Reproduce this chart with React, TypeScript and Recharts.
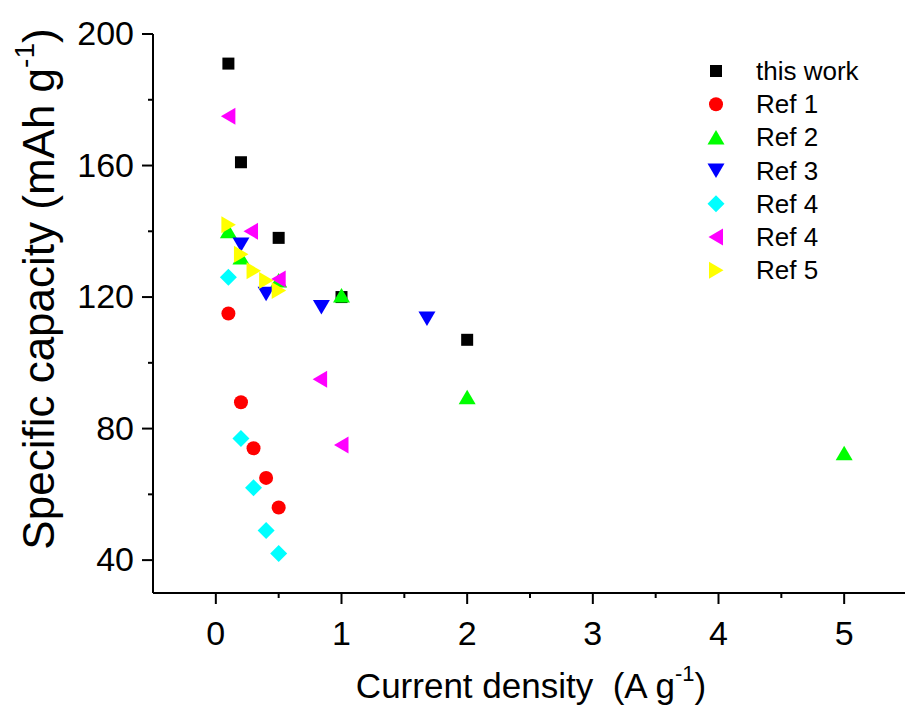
import React from 'react';
import { ScatterChart, Scatter, XAxis, YAxis, Legend, Label } from 'recharts';

const FONT = "'Liberation Sans', Arial, Helvetica, sans-serif";

// ---- data ----
const seriesNames = ['this work', 'Ref 1', 'Ref 2', 'Ref 3', 'Ref 4', 'Ref 4', 'Ref 5'];
const seriesColors = ['#000000', '#FF0000', '#00FF00', '#0000FF', '#00FFFF', '#FF00FF', '#FFFF00'];
const seriesShapes = ['square', 'circle', 'up', 'down', 'diamond', 'left', 'right'];

const thisWorkX = [0.1, 0.2, 0.5, 1, 2];
const thisWorkY = [191, 161, 138, 120, 107];

const ref1X = [0.1, 0.2, 0.3, 0.4, 0.5];
const ref1Y = [115, 88, 74, 65, 56];

const ref2X = [0.1, 0.2, 0.5, 1, 2, 5];
const ref2Y = [140, 132, 125, 120.5, 89.5, 72.5];

const ref3X = [0.2, 0.4, 0.84, 1.68];
const ref3Y = [136, 121, 117, 113.5];

const ref4aX = [0.1, 0.2, 0.3, 0.4, 0.5];
const ref4aY = [126, 77, 62, 49, 42];

const ref4bX = [0.1, 0.28, 0.5, 0.83, 1];
const ref4bY = [175, 140, 125.5, 95, 75];

const ref5X = [0.1, 0.2, 0.3, 0.4, 0.5];
const ref5Y = [142, 133, 128, 125, 122];

const xTicks = [0, 0.5, 1, 1.5, 2, 2.5, 3, 3.5, 4, 4.5, 5];
const yTicks = [40, 60, 80, 100, 120, 140, 160, 180, 200];

const zip = (xs: number[], ys: number[]) => xs.map((x, i) => ({ x, y: ys[i] }));
const seriesData = [
  zip(thisWorkX, thisWorkY),
  zip(ref1X, ref1Y),
  zip(ref2X, ref2Y),
  zip(ref3X, ref3Y),
  zip(ref4aX, ref4aY),
  zip(ref4bX, ref4bY),
  zip(ref5X, ref5Y),
];

// ---- markers ----
function Marker({ kind, cx, cy, fill }: { kind: string; cx: number; cy: number; fill: string }) {
  if (cx == null || cy == null || isNaN(cx) || isNaN(cy)) return <g />;
  const pts = (arr: number[][]) => arr.map((p) => `${cx + p[0]},${cy + p[1]}`).join(' ');
  switch (kind) {
    case 'square':
      return <rect x={cx - 6} y={cy - 6} width={12} height={12} fill={fill} />;
    case 'circle':
      return <circle cx={cx} cy={cy} r={7} fill={fill} />;
    case 'up':
      return <polygon points={pts([[0, -7.5], [8.5, 7], [-8.5, 7]])} fill={fill} />;
    case 'down':
      return <polygon points={pts([[-8.5, -7], [8.5, -7], [0, 7.5]])} fill={fill} />;
    case 'diamond':
      return <polygon points={pts([[0, -8.5], [8.5, 0], [0, 8.5], [-8.5, 0]])} fill={fill} />;
    case 'left':
      return <polygon points={pts([[-7.5, 0], [7, -8.5], [7, 8.5]])} fill={fill} />;
    case 'right':
      return <polygon points={pts([[7.5, 0], [-7, -8.5], [-7, 8.5]])} fill={fill} />;
    default:
      return <circle cx={cx} cy={cy} r={6} fill={fill} />;
  }
}

// ---- ticks ----
const XTick = (props: any) => {
  const { x, y, payload } = props;
  const v = payload.value;
  const major = Math.abs(v - Math.round(v)) < 1e-9;
  return (
    <g>
      <line x1={x} x2={x} y1={y} y2={y + (major ? 11 : 5)} stroke="#000" strokeWidth={2} />
      {major && (
        <text x={x} y={y + 52} textAnchor="middle" fontSize={34} fontFamily={FONT} fill="#000">
          {v}
        </text>
      )}
    </g>
  );
};

const YTick = (props: any) => {
  const { x, y, payload } = props;
  const v = payload.value;
  const major = v % 40 === 0;
  return (
    <g>
      <line x1={x - (major ? 11 : 5)} x2={x} y1={y} y2={y} stroke="#000" strokeWidth={2} />
      {major && (
        <text x={x - 19} y={y + 11} textAnchor="end" fontSize={34} fontFamily={FONT} fill="#000">
          {v}
        </text>
      )}
    </g>
  );
};

const LegendBox = () => (
  <svg width={215} height={240} style={{ display: 'block' }}>
    {seriesNames.map((name, i) => {
      const cy = 21 + i * 33.2;
      return (
        <g key={i}>
          <Marker kind={seriesShapes[i]} cx={16} cy={cy} fill={seriesColors[i]} />
          <text x={56} y={cy + 9} fontSize={26} fontFamily={FONT} fill="#000">
            {name}
          </text>
        </g>
      );
    })}
  </svg>
);

export default function App() {
  return (
    <div
      style={{
        position: 'absolute',
        left: 0,
        top: 0,
        width: 905,
        height: 718,
        overflow: 'hidden',
        background: '#fff',
      }}
    >
      <ScatterChart width={920} height={718} margin={{ top: 34, right: 13, bottom: 0, left: 0 }}>
        <XAxis
          xAxisId="top"
          orientation="top"
          type="number"
          dataKey="x"
          domain={[-0.5, 5.5]}
          height={0}
          tick={false}
          tickLine={false}
          axisLine={{ stroke: '#000', strokeWidth: 2 }}
          allowDataOverflow
        />
        <XAxis
          type="number"
          dataKey="x"
          domain={[-0.5, 5.5]}
          ticks={xTicks}
          interval={0}
          height={125}
          tickSize={0}
          tickMargin={0}
          tickLine={false}
          tick={<XTick />}
          axisLine={{ stroke: '#000', strokeWidth: 2 }}
          allowDataOverflow
        >
          <Label
            content={() => (
              <text x={531} y={698} textAnchor="middle" fontSize={35} fontFamily={FONT} fill="#000">
                {'Current density\u00A0 (A g'}
                <tspan dy={-17} fontSize={22}>-1</tspan>
                <tspan dy={17}>)</tspan>
              </text>
            )}
          />
        </XAxis>
        <YAxis
          type="number"
          dataKey="y"
          domain={[30, 200]}
          ticks={yTicks}
          interval={0}
          width={153}
          tickSize={0}
          tickMargin={0}
          tickLine={false}
          tick={<YTick />}
          axisLine={{ stroke: '#000', strokeWidth: 2 }}
          allowDataOverflow
        >
          <Label
            content={() => (
              <text
                x={54}
                y={289}
                transform="rotate(-90, 54, 289)"
                textAnchor="middle"
                fontSize={44}
                fontFamily={FONT}
                fill="#000"
              >
                {'Specific capacity (mAh g'}
                <tspan dy={-20} fontSize={28}>-1</tspan>
                <tspan dy={20}>)</tspan>
              </text>
            )}
          />
        </YAxis>
        <Legend
          layout="vertical"
          align="center"
          verticalAlign="middle"
          wrapperStyle={{ left: 700, top: 50, width: 215, height: 240 }}
          content={() => <LegendBox />}
        />
        {seriesData.map((data, i) => (
          <Scatter
            key={i}
            name={seriesNames[i]}
            data={data}
            fill={seriesColors[i]}
            isAnimationActive={false}
            shape={(p: any) => <Marker kind={seriesShapes[i]} cx={p.cx} cy={p.cy} fill={seriesColors[i]} />}
          />
        ))}
      </ScatterChart>
    </div>
  );
}
